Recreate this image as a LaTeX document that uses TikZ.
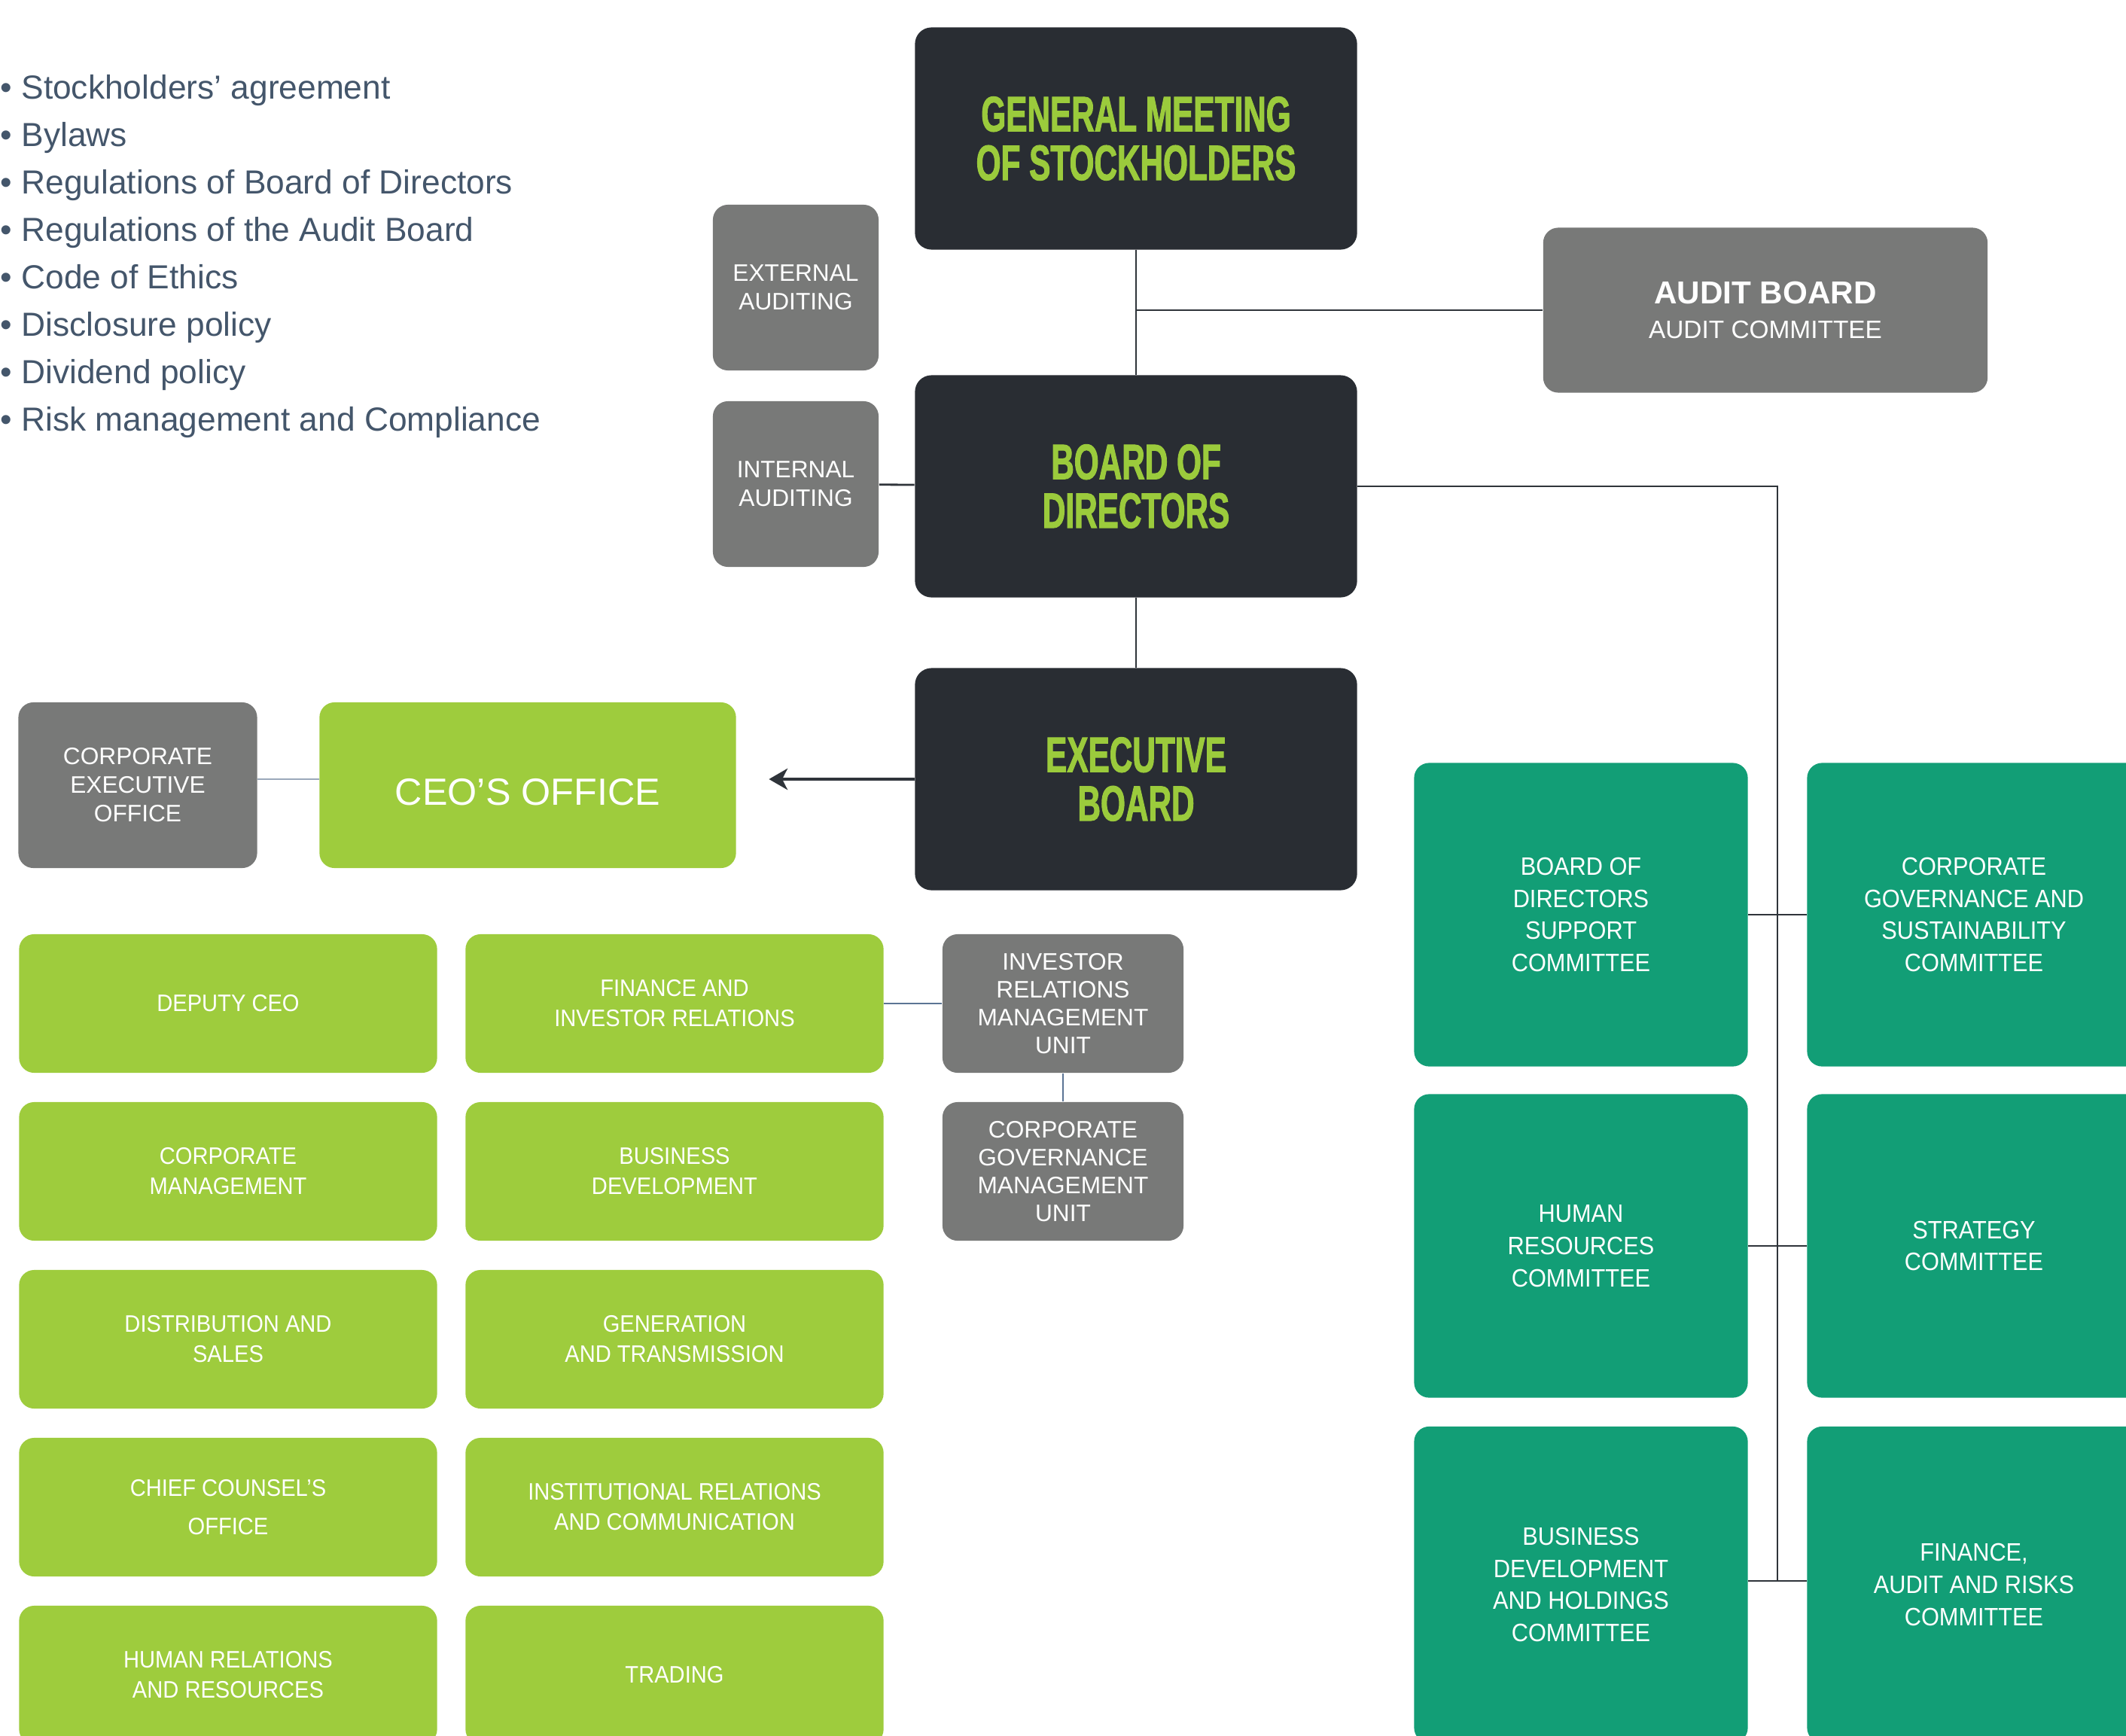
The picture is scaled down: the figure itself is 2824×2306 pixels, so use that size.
\documentclass[tikz,border=0pt]{standalone}
\usepackage{fontspec}
\setmainfont{Liberation Sans}
\newfontfamily\headfont{Liberation Sans}[FakeStretch=0.64,BoldFeatures={FakeBold=1.5}]
\newfontfamily\narrowfont{Liberation Sans}[FakeStretch=0.92]
\usepackage{xcolor}
\usetikzlibrary{arrows.meta}

\definecolor{boarddark}{HTML}{292D33}
\definecolor{titlegreen}{HTML}{9BCB3C}
\definecolor{limegreen}{HTML}{9ECC3D}
\definecolor{unitgray}{HTML}{787978}
\definecolor{cmteteal}{HTML}{129E76}
\definecolor{linedark}{HTML}{2F343A}
\definecolor{lineblue}{HTML}{5B7494}
\definecolor{linesoft}{HTML}{9AA8BA}
\definecolor{listblue}{HTML}{44566B}

\begin{document}
\begin{tikzpicture}[x=0.01cm,y=-0.01cm]
        \tikzstyle{board}=[rectangle,rounded corners=0.22cm,fill=boarddark,text=titlegreen,align=center,minimum width=5.87cm,minimum height=2.95cm,font=\headfont\bfseries\fontsize{18.8}{18.4}\selectfont]
        \tikzstyle{sidebox}=[rectangle,rounded corners=0.2cm,fill=unitgray,text=white,align=center,minimum width=2.2cm,minimum height=2.2cm,font=\fontsize{9}{10.8}\selectfont]
        \tikzstyle{auditbox}=[rectangle,rounded corners=0.2cm,fill=unitgray,text=white,align=center,minimum width=5.9cm,minimum height=2.19cm]
        \tikzstyle{ceobox}=[rectangle,rounded corners=0.2cm,fill=limegreen,text=white,align=center,minimum width=5.53cm,minimum height=2.2cm,font=\fontsize{14.3}{17}\selectfont]
        \tikzstyle{dept}=[rectangle,rounded corners=0.2cm,fill=limegreen,text=white,align=center,minimum width=5.55cm,minimum height=1.84cm,font=\narrowfont\fontsize{9}{11.4}\selectfont]
        \tikzstyle{unitbox}=[rectangle,rounded corners=0.2cm,fill=unitgray,text=white,align=center,minimum width=3.2cm,minimum height=1.84cm,font=\fontsize{9}{10.5}\selectfont]
        \tikzstyle{cmte}=[rectangle,rounded corners=0.2cm,fill=cmteteal,text=white,align=center,minimum width=4.43cm,minimum height=4.03cm,font=\narrowfont\fontsize{9.5}{12.2}\selectfont]
        \tikzstyle{edge}=[draw=linedark,line width=0.8pt]
        \tikzstyle{softedge}=[draw=linesoft,line width=0.8pt]
        \tikzstyle{unitedge}=[draw=lineblue,line width=0.8pt]
        \tikzstyle{arrowedge}=[draw=linedark,line width=1.3pt,-{Stealth[length=7pt,width=8pt,inset=2pt]},shorten >=0.43cm]

        \useasboundingbox (0,0) rectangle (2824,2306);
        \clip (0,0) rectangle (2824,2306);

        \node [anchor=north west,align=left,inner sep=0,text=listblue,font=\fontsize{12.6}{17.9}\selectfont] (rules) at (0,99)
          {• Stockholders’ agreement\\ • Bylaws\\ • Regulations of Board of Directors\\ • Regulations of the Audit Board\\
           • Code of Ethics\\ • Disclosure policy\\ • Dividend policy\\ • Risk management and Compliance};

        \begin{scope}
          \node [board] (gms) at (1509,184) {GENERAL MEETING\\OF STOCKHOLDERS};
          \node [board] (bod) at (1509,646) {BOARD OF\\DIRECTORS};
          \node [board] (eb) at (1509,1035) {EXECUTIVE\\BOARD};
          \node [sidebox] (extaud) at (1057,382) {EXTERNAL\\AUDITING};
          \node [sidebox] (intaud) at (1057,643) {INTERNAL\\AUDITING};
          \node [auditbox] (audit) at (2345,412)
            {{\bfseries\fontsize{12}{14}\selectfont AUDIT BOARD}\\[1pt]{\fontsize{9.5}{11}\selectfont AUDIT COMMITTEE}};
          \path[edge] (gms) -- (bod);
          \path[edge] (audit.west) -- (audit.west -| gms.south);
          \path[edge] (intaud) -- (bod);
          \path[edge] (bod) -- (eb);
        \end{scope}

        \begin{scope}
          \node [sidebox,minimum width=3.17cm] (ceoexec) at (183,1043) {CORPORATE\\EXECUTIVE\\OFFICE};
          \node [ceobox] (ceo) at (701,1043) {\raisebox{-0.09cm}[\height][\depth]{CEO’S OFFICE}};
          \path[arrowedge] (eb.west) -- (eb.west -| ceo.east);
          \path[softedge] (ceoexec.east |- eb.west) -- (ceo.west |- eb.west);

          \node [dept] (deputy) at (303,1333) {DEPUTY CEO};
          \node [dept] (corpmgmt) at (303,1556) {CORPORATE\\MANAGEMENT};
          \node [dept] (distrib) at (303,1779) {DISTRIBUTION AND\\SALES};
          \node [dept,font=\narrowfont\fontsize{9}{14.3}\selectfont] (counsel) at (303,2002) {CHIEF COUNSEL’S\\OFFICE};
          \node [dept] (hr) at (303,2225) {HUMAN RELATIONS\\AND RESOURCES};
          \node [dept] (finance) at (896,1333) {FINANCE AND\\INVESTOR RELATIONS};
          \node [dept] (busdev) at (896,1556) {BUSINESS\\DEVELOPMENT};
          \node [dept] (gentrans) at (896,1779) {GENERATION\\AND TRANSMISSION};
          \node [dept] (instrel) at (896,2002) {INSTITUTIONAL RELATIONS\\AND COMMUNICATION};
          \node [dept] (trading) at (896,2225) {TRADING};

          \node [unitbox] (irunit) at (1412,1333) {INVESTOR\\RELATIONS\\MANAGEMENT\\UNIT};
          \node [unitbox] (cgunit) at (1412,1556) {CORPORATE\\GOVERNANCE\\MANAGEMENT\\UNIT};
          \path[unitedge] (finance) -- (irunit);
          \path[unitedge] (irunit) -- (cgunit);
        \end{scope}

        \begin{scope}
          \node [cmte] (bdsupport) at (2100,1215) {BOARD OF\\DIRECTORS\\SUPPORT\\COMMITTEE};
          \node [cmte] (govsust) at (2622,1215) {CORPORATE\\GOVERNANCE AND\\SUSTAINABILITY\\COMMITTEE};
          \node [cmte] (hrcmte) at (2100,1655) {HUMAN\\RESOURCES\\COMMITTEE};
          \node [cmte] (strategy) at (2622,1655) {STRATEGY\\COMMITTEE};
          \node [cmte,minimum height=4.2cm] (holdings) at (2100,2105) {BUSINESS\\DEVELOPMENT\\AND HOLDINGS\\COMMITTEE};
          \node [cmte,minimum height=4.2cm] (farisk) at (2622,2105) {FINANCE,\\AUDIT AND RISKS\\COMMITTEE};
          \coordinate (spine) at (2361,2100);
          \path[edge] (bod.east) -| (spine);
          \path[edge] (bdsupport) -- (govsust);
          \path[edge] (hrcmte) -- (strategy);
          \path[edge] (holdings.east |- spine) -- (farisk.west |- spine);
        \end{scope}
\end{tikzpicture}
\end{document}
